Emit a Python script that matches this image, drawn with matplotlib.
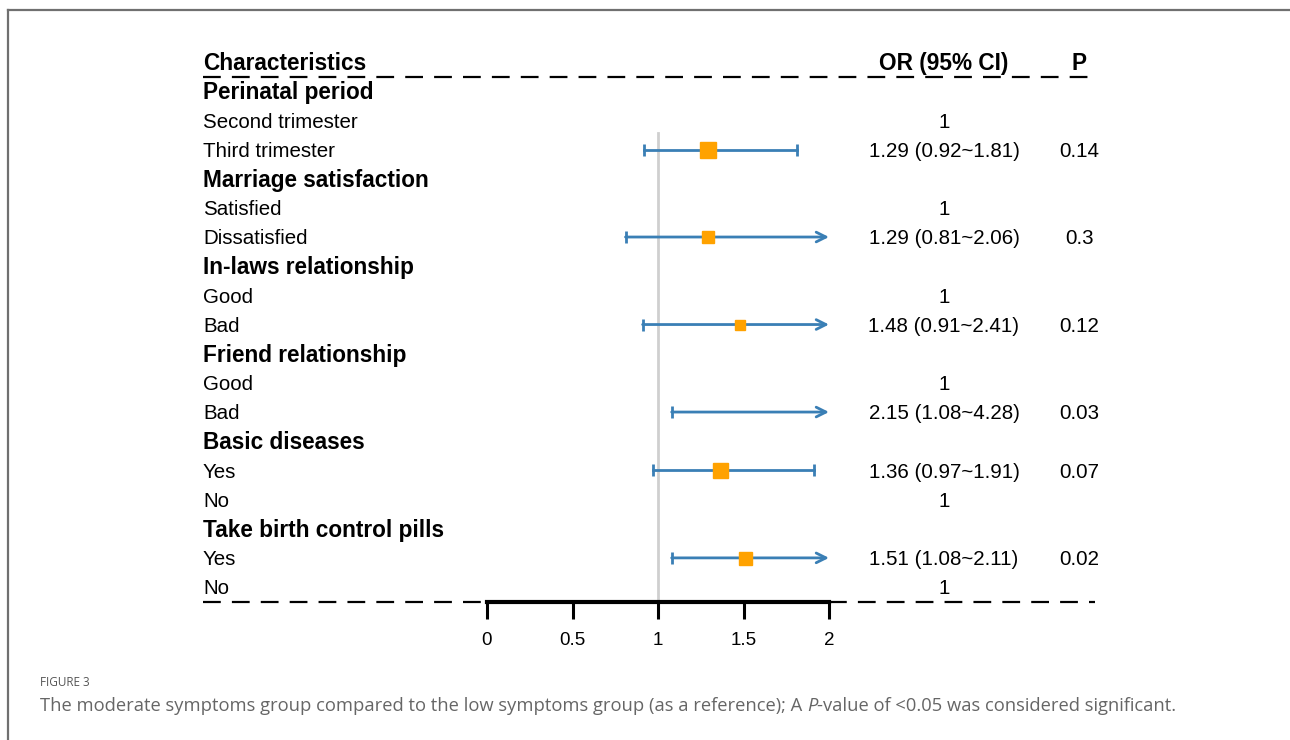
import numpy as np
import matplotlib
matplotlib.use('Agg')
import matplotlib.pyplot as plt
from matplotlib.lines import Line2D

plt.rcParams['font.family'] = ['Liberation Sans', 'DejaVu Sans']

labels = ['Perinatal period', 'Second trimester', 'Third trimester',
          'Marriage satisfaction', 'Satisfied', 'Dissatisfied',
          'In-laws relationship', 'Good', 'Bad',
          'Friend relationship', 'Good', 'Bad',
          'Basic diseases', 'Yes', 'No',
          'Take birth control pills', 'Yes', 'No']
is_group = [True, False, False, True, False, False, True, False, False,
            True, False, False, True, False, False, True, False, False]
est = [np.nan, 1, 1.29, np.nan, 1, 1.29, np.nan, 1, 1.48,
       np.nan, 1, 2.15, np.nan, 1.36, 1, np.nan, 1.51, 1]
lo = [np.nan, np.nan, 0.92, np.nan, np.nan, 0.81, np.nan, np.nan, 0.91,
      np.nan, np.nan, 1.08, np.nan, 0.97, np.nan, np.nan, 1.08, np.nan]
hi = [np.nan, np.nan, 1.81, np.nan, np.nan, 2.06, np.nan, np.nan, 2.41,
      np.nan, np.nan, 4.28, np.nan, 1.91, np.nan, np.nan, 2.11, np.nan]
p_vals = ['', '', '0.14', '', '', '0.3', '', '', '0.12',
          '', '', '0.03', '', '0.07', '', '', '0.02', '']
box_size = [0, 0, 16, 0, 0, 12, 0, 0, 10, 0, 0, 14, 0, 15, 0, 0, 13, 0]
xticks = [0, 0.5, 1, 1.5, 2]
xtick_labels = ['0', '0.5', '1', '1.5', '2']

blue = '#3a7fb5'
orange = '#ffa200'

W, H = 1290, 740
fig = plt.figure(figsize=(W / 100, H / 100), dpi=100)
ax = fig.add_axes([0, 0, 1, 1])

# pixel layout -> data units (x in OR units, y in row units)
px_per_x = 171.0
x0_px = 487.0
row0_px = 62.0
row_px = 29.17
ax.set_xlim(-x0_px / px_per_x, (W - x0_px) / px_per_x)
ax.set_ylim((H - row0_px) / row_px, -row0_px / row_px)

def px2x(p):
    return (p - x0_px) / px_per_x

x_lab = px2x(203)
x_or = px2x(944)
x_p = px2x(1079)
x_end = px2x(1095)
n = len(labels)
y_bot = n + 0.5
txt_dy = 0.06  # nudge text down slightly

# header
ax.text(x_lab, txt_dy, 'Characteristics', fontsize=16.3, fontweight='bold', va='center', ha='left')
ax.text(x_or, txt_dy, 'OR (95% CI)', fontsize=16.3, fontweight='bold', va='center', ha='center')
ax.text(x_p, txt_dy, 'P', fontsize=16.3, fontweight='bold', va='center', ha='center')
ax.plot([x_lab, x_end], [0.5, 0.5], color='black', lw=1.6, ls=(0, (8, 5)))
ax.plot([x_lab, px2x(487)], [y_bot, y_bot], color='black', lw=1.6, ls=(0, (8, 5)))
ax.plot([px2x(829), x_end], [y_bot, y_bot], color='black', lw=1.6, ls=(0, (8, 5)))

# reference line
ax.plot([1, 1], [2.45, y_bot], color='#cfcfcf', lw=2, zorder=1)

for i, lab in enumerate(labels):
    y = i + 1
    ty = y + txt_dy
    if is_group[i]:
        ax.text(x_lab, ty, lab, fontsize=16.3, fontweight='bold', va='center', ha='left')
        continue
    ax.text(x_lab, ty, lab, fontsize=14.8, va='center', ha='left')
    if np.isnan(lo[i]):
        ax.text(x_or, ty, '1', fontsize=14.8, va='center', ha='center')
        continue
    ax.text(x_or, ty, f'{est[i]:.2f} ({lo[i]:.2f}~{hi[i]:.2f})', fontsize=14.8, va='center', ha='center')
    ax.text(x_p, ty, p_vals[i], fontsize=14.8, va='center', ha='center')
    ax.plot([lo[i]], [y], marker='|', ms=9, mew=2, color=blue, zorder=3)
    if hi[i] > 2:
        ax.annotate('', xy=(2, y), xytext=(lo[i], y),
                    arrowprops=dict(arrowstyle='->,head_length=0.7,head_width=0.35',
                                    color=blue, lw=2, shrinkA=0, shrinkB=0), zorder=3)
    else:
        ax.plot([lo[i], hi[i]], [y, y], color=blue, lw=2, zorder=3)
        ax.plot([hi[i]], [y], marker='|', ms=9, mew=2, color=blue, zorder=3)
    if est[i] <= 2:
        ax.plot([est[i]], [y], marker='s', ms=box_size[i] * 0.72, color=orange,
                mec=orange, zorder=4)

# x axis
for s in ['left', 'right', 'top']:
    ax.spines[s].set_visible(False)
ax.spines['bottom'].set_position(('data', y_bot))
ax.spines['bottom'].set_bounds(0, 2)
ax.spines['bottom'].set_linewidth(3)
ax.set_xticks(xticks)
ax.set_xticklabels(xtick_labels, fontsize=13.5)
ax.tick_params(axis='x', direction='out', length=12, width=2.2, pad=10)
ax.set_yticks([])
ax.patch.set_alpha(0)

# frame and caption
cap_font = ['Open Sans', 'DejaVu Sans']
fig.add_artist(Line2D([8 / W, 8 / W], [0, 1 - 10 / H], color='#707070', lw=1.6))
fig.add_artist(Line2D([8 / W, 1], [1 - 10 / H, 1 - 10 / H], color='#707070', lw=1.6))
fig.text(40 / W, 1 - 683 / H, 'FIGURE 3', fontsize=8.5, color='#555555',
         family=cap_font, va='center')
t1 = fig.text(40 / W, 1 - 706 / H,
              'The moderate symptoms group compared to the low symptoms group (as a reference); A ',
              fontsize=13.2, color='#666666', family=cap_font, va='center')
a2 = ax.annotate('P', xy=(1, 0), xycoords=t1, fontsize=13.2, color='#666666', style='italic',
                 family=cap_font, va='bottom', ha='left', annotation_clip=False)
ax.annotate('-value of <0.05 was considered significant.', xy=(1, 0), xycoords=a2,
            fontsize=13.2, color='#666666', family=cap_font,
            va='bottom', ha='left', annotation_clip=False)

fig.savefig('out.png', dpi=100)
